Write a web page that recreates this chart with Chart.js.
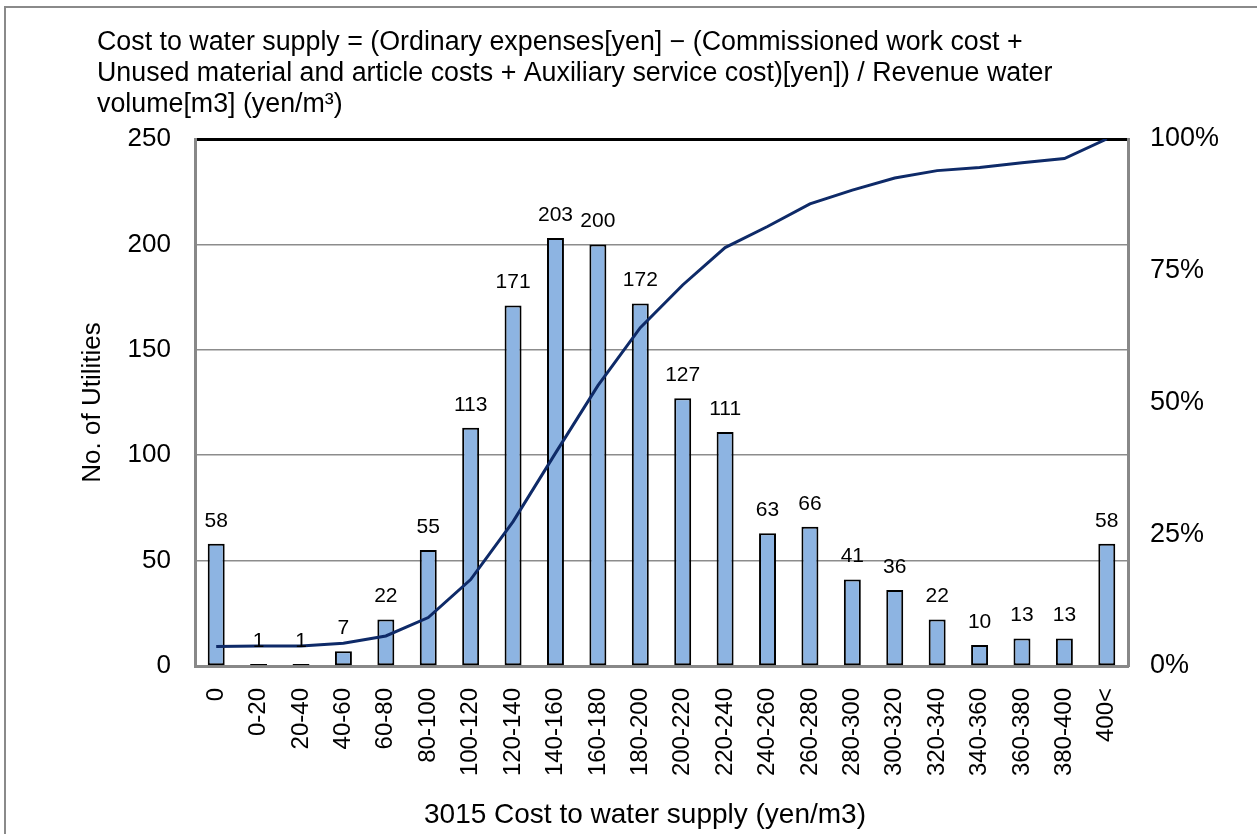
<!DOCTYPE html>
<html>
<head>
<meta charset="utf-8">
<title>Cost to water supply</title>
<script src="https://cdn.jsdelivr.net/npm/chart.js@4.4.1/dist/chart.umd.min.js"></script>
<style>
  html, body { margin: 0; padding: 0; background: #fff; overflow: hidden; }
  #wrap { position: relative; width: 1257px; height: 834px; }
  #frame {
    position: absolute; left: 4px; top: 6px; width: 1400px; height: 1000px;
    border-top: 2px solid #8a8a8a; border-left: 2px solid #8a8a8a;
    pointer-events: none;
  }
</style>
</head>
<body>
<div id="wrap">
  <canvas id="costChart" width="1257" height="834"></canvas>
  <div id="frame"></div>
</div>
<script>
// ── Data ──
const categories = ['0', '0-20', '20-40', '40-60', '60-80', '80-100', '100-120', '120-140',
  '140-160', '160-180', '180-200', '200-220', '220-240', '240-260', '260-280', '280-300',
  '300-320', '320-340', '340-360', '360-380', '380-400', '400<'];
const utilities = [58, 1, 1, 7, 22, 55, 113, 171, 203, 200, 172, 127, 111, 63, 66, 41, 36, 22, 10, 13, 13, 58];
const cumulativePct = [3.7, 3.8, 3.8, 4.3, 5.7, 9.2, 16.4, 27.4, 40.4, 53.2, 64.2, 72.3, 79.4,
  83.4, 87.7, 90.3, 92.6, 94.0, 94.6, 95.5, 96.3, 100];
const countTicks = [0, 50, 100, 150, 200, 250];
const pctTicks = [0, 25, 50, 75, 100];

const titleLines = [
  'Cost to water supply = (Ordinary expenses[yen] \u2212 (Commissioned work cost +',
  'Unused material and article costs + Auxiliary service cost)[yen]) / Revenue water',
  'volume[m3] (yen/m\u00b3)'
];
const xTitle = '3015 Cost to water supply (yen/m3)';

const FONT = 'Arial, "Liberation Sans", sans-serif';
Chart.defaults.font.family = FONT;
Chart.defaults.color = '#000';

// ── Chart title (top left) and x axis title ──
const headerText = {
  id: 'headerText',
  afterDraw(chart) {
    const ctx = chart.ctx;
    ctx.save();
    ctx.fillStyle = '#000';
    ctx.textBaseline = 'middle';
    ctx.font = '26.8px ' + FONT;
    ctx.textAlign = 'left';
    titleLines.forEach((line, i) => ctx.fillText(line, 97, 43 + i * 31));
    ctx.font = '28px ' + FONT;
    ctx.textAlign = 'center';
    ctx.fillText(xTitle, 645, 815);
    ctx.restore();
  }
};

// ── Value labels above the bars ──
const barValues = {
  id: 'barValues',
  afterDatasetsDraw(chart) {
    const ctx = chart.ctx;
    const meta = chart.getDatasetMeta(1);
    ctx.save();
    ctx.font = '21px ' + FONT;
    ctx.fillStyle = '#000';
    ctx.textAlign = 'center';
    ctx.textBaseline = 'middle';
    meta.data.forEach((bar, i) => {
      ctx.fillText(String(utilities[i]), bar.x, bar.y - 23);
    });
    ctx.restore();
  }
};

new Chart(document.getElementById('costChart'), {
  data: {
    labels: categories,
    datasets: [
      {
        type: 'line',
        label: 'Cumulative',
        data: cumulativePct,
        yAxisID: 'y1',
        borderColor: '#0e2a68',
        borderWidth: 3,
        pointRadius: 0,
        tension: 0,
        fill: false,
        order: 0
      },
      {
        type: 'bar',
        label: 'No. of Utilities',
        data: utilities,
        yAxisID: 'y',
        backgroundColor: '#8db4e2',
        borderColor: '#000',
        borderWidth: 2,
        borderSkipped: false,
        barPercentage: 0.4,
        categoryPercentage: 1,
        order: 1
      }
    ]
  },
  options: {
    responsive: false,
    animation: false,
    layout: { padding: { top: 139, left: 0, right: 0, bottom: 0 } },
    plugins: {
      legend: { display: false },
      tooltip: { enabled: false },
      title: { display: false }
    },
    scales: {
      x: {
        grid: { display: false, drawTicks: false },
        border: { color: '#888', width: 3 },
        ticks: { font: { size: 24 }, maxRotation: 90, minRotation: 90, padding: 22, autoSkip: false },
        afterFit: s => { s.height = 168; }
      },
      y: {
        position: 'left',
        min: 0, max: 250,
        afterBuildTicks: s => { s.ticks = countTicks.map(v => ({ value: v })); },
        grid: {
          drawTicks: false,
          color: c => c.tick && c.tick.value === 250 ? '#000' : '#8c8c8c',
          lineWidth: c => c.tick && c.tick.value === 250 ? 3 : 1.5
        },
        border: { color: '#888', width: 3 },
        ticks: { font: { size: 26 }, padding: 24 },
        title: { display: true, text: 'No. of Utilities', font: { size: 26 }, padding: { top: 77 } },
        afterFit: s => { s.width = 195; }
      },
      y1: {
        position: 'right',
        min: 0, max: 100,
        afterBuildTicks: s => { s.ticks = pctTicks.map(v => ({ value: v })); },
        grid: { display: false, drawTicks: false },
        border: { color: '#888', width: 3 },
        ticks: { font: { size: 27 }, padding: 22, callback: v => v + '%' },
        afterFit: s => { s.width = 129; }
      }
    }
  },
  plugins: [headerText, barValues]
});
</script>
</body>
</html>
